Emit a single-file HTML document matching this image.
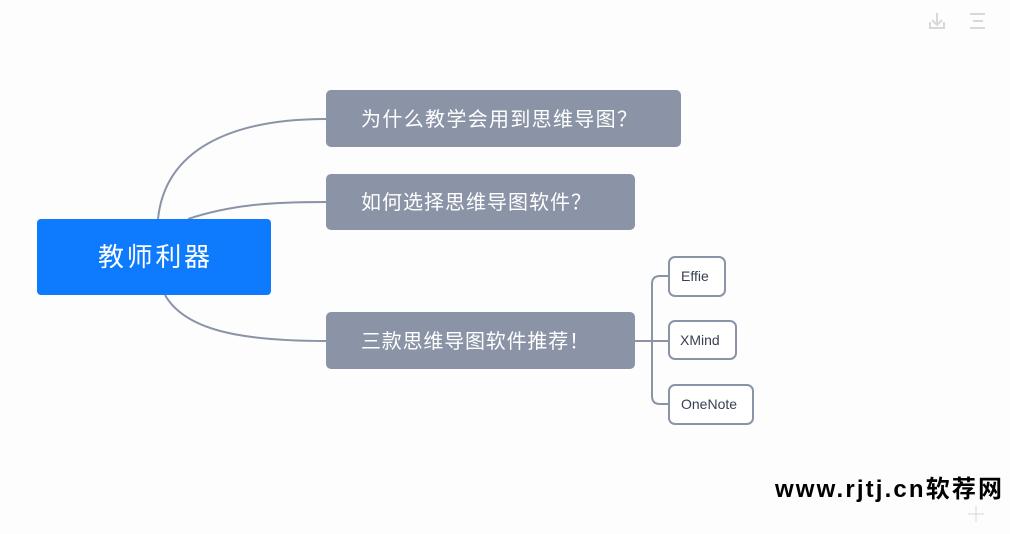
<!DOCTYPE html>
<html><head><meta charset="utf-8"><style>
html,body{margin:0;padding:0;background:#fdfdfd;}
svg{display:block}
text{font-family:"Liberation Sans","Noto Sans CJK SC",sans-serif;}
</style></head><body>
<svg width="1010" height="534" viewBox="0 0 1010 534">
<rect width="1010" height="534" fill="#fdfdfd"/>
<g fill="none" stroke="#8a94a6" stroke-width="2">
<path d="M158 219 C 165 150, 230 119, 326 119"/>
<path d="M188 219 C 230 205, 270 202, 326 202"/>
<path d="M165 295 C 185 330, 240 341, 326 341"/>
<path d="M635 341 H 669"/>
<path d="M669 276 H 660 Q 652 276 652 284 V 396 Q 652 404 660 404 H 669"/>
</g>
<rect x="37" y="219" width="234" height="76" rx="4" fill="#0e7bff"/>
<text x="154" y="266" font-size="26" fill="#fff" text-anchor="middle" textLength="112">教师利器</text>
<rect x="326" y="90" width="355" height="57" rx="5" fill="#8a94a6"/>
<text x="361" y="126" font-size="20" fill="#fff" textLength="276">为什么教学会用到思维导图？</text>
<rect x="326" y="174" width="309" height="56" rx="5" fill="#8a94a6"/>
<text x="361" y="209" font-size="20" fill="#fff" textLength="230">如何选择思维导图软件？</text>
<rect x="326" y="312" width="309" height="57" rx="5" fill="#8a94a6"/>
<text x="361" y="348" font-size="20" fill="#fff" textLength="228">三款思维导图软件推荐！</text>
<g fill="#fff" stroke="#8a94a6" stroke-width="2">
<rect x="669" y="257" width="56" height="39" rx="6"/>
<rect x="669" y="321" width="67" height="38" rx="6"/>
<rect x="669" y="385" width="84" height="39" rx="6"/>
</g>
<g font-size="14" fill="#3a4050">
<text x="681" y="281">Effie</text>
<text x="680" y="345">XMind</text>
<text x="681" y="409">OneNote</text>
</g>
<g stroke="#d8d8d8" stroke-width="2" fill="none">
<path d="M937 13 V 24 M932 20 L937 25 L942 20 M930 22 V 28 H 944 V 22"/>
<path d="M970 14 H 985 M973 21 H 983 M970 28 H 985"/>
<path d="M976 506 V 522 M968 514 H 984" stroke-width="1"/>
</g>
<text x="775" y="497" font-size="24" font-weight="bold" fill="#000" textLength="227">www.rjtj.cn软荐网</text>
</svg>
</body></html>
